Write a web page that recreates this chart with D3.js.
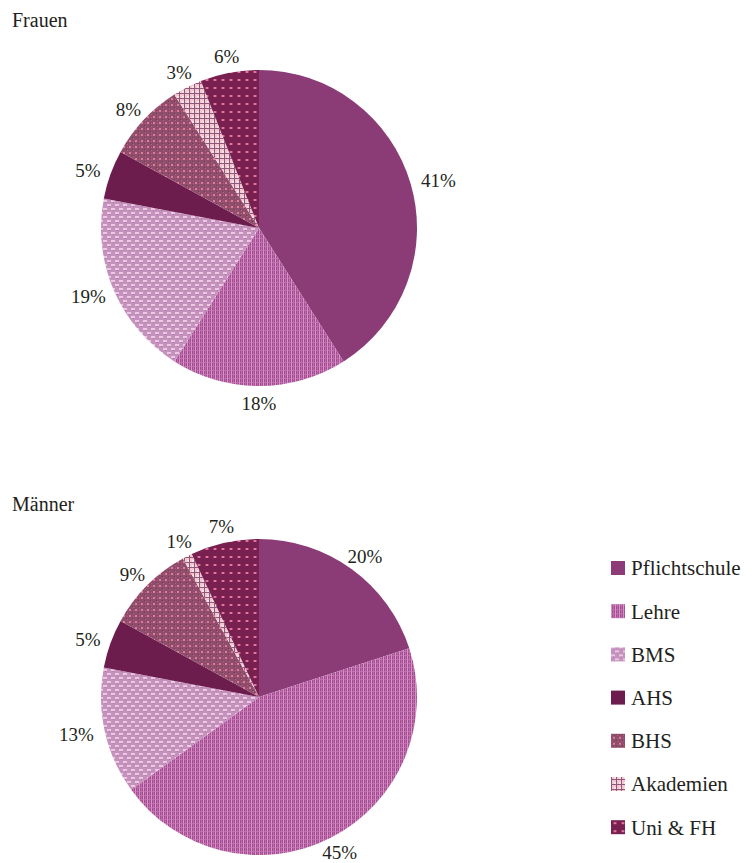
<!DOCTYPE html>
<html>
<head>
<meta charset="utf-8">
<script src="https://cdn.jsdelivr.net/npm/d3@7"></script>
<style>
  body { margin: 0; background: #fff; }
</style>
</head>
<body>
<div id="container"></div>
<script>
// data
const categories = ["Pflichtschule", "Lehre", "BMS", "AHS", "BHS", "Akademien", "Uni & FH"];
const frauenValues = [41, 18, 19, 5, 8, 3, 6];
const maennerValues = [20, 45, 13, 5, 9, 1, 7];
const panelTitles = ["Frauen", "Männer"];

const width = 752;
const height = 863;
const radius = 158;
const fontFamily = "Liberation Serif";

const svg = d3.select("#container").append("svg")
    .attr("width", width)
    .attr("height", height);

const defs = svg.append("defs");

// fills: solid colours or small svg patterns, one per category
function addPattern(id, size, bg, draw) {
    const p = defs.append("pattern")
        .attr("id", id)
        .attr("patternUnits", "userSpaceOnUse")
        .attr("width", size)
        .attr("height", size);
    p.append("rect").attr("width", size).attr("height", size).attr("fill", bg);
    draw(p);
}

addPattern("pLehre", 4, "#a0508f", p => {
    p.append("rect").attr("x", 0).attr("y", 0).attr("width", 1).attr("height", 4).attr("fill", "#dd92ca");
    p.append("rect").attr("x", 2).attr("y", 0).attr("width", 1).attr("height", 4).attr("fill", "#bc6aaa");
    p.append("rect").attr("x", 0).attr("y", 2).attr("width", 4).attr("height", 1).attr("fill", "#cf7cba").attr("opacity", 0.6);
});

addPattern("pBMS", 8, "#c591bd", p => {
    p.append("rect").attr("x", 0).attr("y", 0).attr("width", 4).attr("height", 2).attr("fill", "#ecc8e2");
    p.append("rect").attr("x", 4).attr("y", 4).attr("width", 4).attr("height", 2).attr("fill", "#ecc8e2");
    p.append("rect").attr("x", 2).attr("y", 2).attr("width", 1).attr("height", 1).attr("fill", "#a8729f");
    p.append("rect").attr("x", 6).attr("y", 6).attr("width", 1).attr("height", 1).attr("fill", "#a8729f");
});

addPattern("pBHS", 6, "#8f4d6c", p => {
    p.append("rect").attr("x", 2).attr("y", 2).attr("width", 2).attr("height", 2).attr("fill", "#e07a9b");
    p.append("rect").attr("x", 0).attr("y", 0).attr("width", 1).attr("height", 1).attr("fill", "#c0607f");
    p.append("rect").attr("x", 5).attr("y", 5).attr("width", 1).attr("height", 1).attr("fill", "#6f3a55");
    p.append("rect").attr("x", 0).attr("y", 3).attr("width", 1).attr("height", 1).attr("fill", "#b06080");
});

addPattern("pAkad", 5, "#f4c6d2", p => {
    p.append("rect").attr("x", 0).attr("y", 0).attr("width", 1).attr("height", 5).attr("fill", "#8c5a78");
    p.append("rect").attr("x", 0).attr("y", 0).attr("width", 5).attr("height", 1).attr("fill", "#8c5a78");
    p.append("rect").attr("x", 3).attr("y", 3).attr("width", 2).attr("height", 2).attr("fill", "#fbe1e8");
});

addPattern("pUni", 8, "#78204f", p => {
    p.append("rect").attr("x", 3).attr("y", 3).attr("width", 2).attr("height", 2).attr("fill", "#e2759d");
    p.append("rect").attr("x", 2).attr("y", 3).attr("width", 1).attr("height", 2).attr("fill", "#a8446f");
    p.append("rect").attr("x", 5).attr("y", 3).attr("width", 1).attr("height", 2).attr("fill", "#a8446f");
});

const fills = ["#8b3c77", "url(#pLehre)", "url(#pBMS)", "#6c1d4d", "url(#pBHS)", "url(#pAkad)", "url(#pUni)"];
const color = d3.scaleOrdinal().domain(categories).range(fills);

const pie = d3.pie().sort(null).value(d => d.value);
const arc = d3.arc().innerRadius(0).outerRadius(radius);

function drawPie(values, title, cy, titleY) {
    svg.append("text")
        .attr("x", 12)
        .attr("y", titleY)
        .attr("font-family", fontFamily)
        .attr("font-size", 20)
        .attr("fill", "#231f20")
        .text(title);

    const data = categories.map((c, i) => ({ cat: c, value: values[i] }));
    const g = svg.append("g").attr("transform", `translate(259,${cy})`);
    const arcs = pie(data);

    g.selectAll("path")
        .data(arcs)
        .join("path")
        .attr("d", arc)
        .attr("fill", d => color(d.data.cat));

    // labels outside the slice end
    const labels = g.selectAll("text.lbl")
        .data(arcs)
        .join("text")
        .attr("class", "lbl")
        .attr("font-family", fontFamily)
        .attr("font-size", 19)
        .attr("fill", "#231f20")
        .attr("text-anchor", "middle")
        .attr("dy", "0.35em")
        .text(d => d.data.value + "%");

    labels.each(function (d) {
        const a = (d.startAngle + d.endAngle) / 2;
        const w = this.getComputedTextLength() / 2;
        const r = radius + 12;
        const x = Math.sin(a) * (r + w * Math.abs(Math.sin(a)));
        const y = -Math.cos(a) * (r + 5 * Math.abs(Math.cos(a)));
        d3.select(this).attr("x", x).attr("y", y);
    });
}

drawPie(frauenValues, panelTitles[0], 228, 27);
drawPie(maennerValues, panelTitles[1], 697, 511);

// legend
const legend = svg.append("g").attr("transform", "translate(611,568)");
const rows = legend.selectAll("g")
    .data(categories)
    .join("g")
    .attr("transform", (d, i) => `translate(0,${i * 43.2})`);

rows.append("rect")
    .attr("x", 0)
    .attr("y", -7)
    .attr("width", 14)
    .attr("height", 14)
    .attr("fill", d => color(d));

rows.append("text")
    .attr("x", 20)
    .attr("dy", "0.35em")
    .attr("font-family", fontFamily)
    .attr("font-size", 21)
    .attr("fill", "#231f20")
    .text(d => d);
</script>
</body>
</html>
